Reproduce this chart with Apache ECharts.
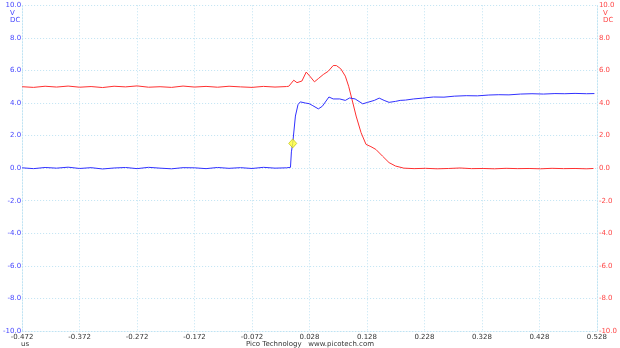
<!DOCTYPE html>
<html><head><meta charset="utf-8">
<script src="https://cdn.jsdelivr.net/npm/echarts@6/dist/echarts.min.js"></script>
<style>html,body{margin:0;padding:0;background:#fff}#c{width:620px;height:348px}</style>
</head><body><div id="c"></div>
<script>
// Channel A (blue) time in us, volts
const blueT = [-0.472,-0.452,-0.432,-0.412,-0.392,-0.372,-0.352,-0.332,-0.312,-0.292,-0.272,-0.252,-0.232,-0.212,-0.192,-0.172,-0.152,-0.132,-0.112,-0.092,-0.072,-0.052,-0.032,-0.012,
  -0.0051,-0.0035,-0.0012,0.0035,0.008,0.012,0.0206,0.0275,0.0326,0.0434,0.0503,0.0618,0.0692,0.0806,0.0903,0.0978,0.1074,0.1206,0.1292,0.1407,0.1493,0.1578,0.1664,0.1777,0.1858,0.195,0.2093,0.225,0.2436,0.262,0.28,0.3007,0.32,0.34,0.3573,0.375,0.395,0.4151,0.435,0.455,0.4722,0.49,0.51,0.5237];
const blueV = [0.02,-0.03,0.04,0.00,0.06,-0.02,0.03,-0.05,0.01,0.04,-0.03,0.05,0.00,-0.04,0.03,0.02,-0.03,0.04,-0.01,0.03,-0.02,0.05,0.00,0.02,
  0.05,1.0,1.52,3.2,3.9,4.07,4.0,3.96,3.86,3.64,3.8,4.37,4.25,4.25,4.16,4.31,4.25,3.95,4.04,4.16,4.30,4.16,4.04,4.10,4.16,4.18,4.25,4.30,4.37,4.36,4.42,4.45,4.44,4.49,4.51,4.50,4.55,4.57,4.55,4.58,4.57,4.59,4.57,4.58];
// Channel B (red)
const redT = [-0.472,-0.452,-0.432,-0.412,-0.392,-0.372,-0.352,-0.332,-0.312,-0.292,-0.272,-0.252,-0.232,-0.212,-0.192,-0.172,-0.152,-0.132,-0.112,-0.092,-0.072,-0.052,-0.032,-0.012,
  -0.008,0.0006,0.0062,0.0148,0.0223,0.0297,0.0366,0.0434,0.052,0.0606,0.0692,0.0748,0.0824,0.0903,0.0961,0.1035,0.1091,0.1177,0.1263,0.1349,0.1435,0.155,0.1664,0.1777,0.1921,
  0.21,0.23,0.25,0.27,0.29,0.31,0.33,0.35,0.37,0.39,0.41,0.43,0.45,0.47,0.49,0.51,0.522];
const redV = [5.00,4.96,5.03,4.98,5.04,4.97,5.01,4.95,5.03,4.99,5.05,4.97,5.00,4.96,5.04,4.98,5.02,4.97,5.03,4.99,4.96,5.02,4.98,5.01,
  5.03,5.4,5.25,5.35,5.9,5.6,5.3,5.5,5.75,5.95,6.3,6.3,6.1,5.65,5.03,4.0,3.2,2.18,1.46,1.32,1.15,0.74,0.34,0.13,0.0,
  -0.03,-0.01,-0.04,-0.02,0.01,-0.03,-0.02,-0.04,-0.01,-0.03,-0.02,-0.04,-0.01,-0.03,-0.02,-0.04,-0.02];
// Trigger marker
const trigT = [-0.0012];
const trigV = [1.52];

const pair = (ts, vs) => ts.map((t, i) => [t, vs[i]]);
const chart = echarts.init(document.getElementById('c'), null, {renderer: 'canvas'});
const gridCol = '#bfe3f3';
const dash = [1, 2];
const font = 'DejaVu Sans';
chart.setOption({
  animation: false,
  grid: {left: 19.5, right: 18, top: 5.3, bottom: 17},
  xAxis: {
    type: 'value', min: -0.472, max: 0.528, interval: 0.1,
    axisLine: {show: true, onZero: false, lineStyle: {color: gridCol, type: dash}},
    axisTick: {show: false},
    splitLine: {show: true, lineStyle: {color: gridCol, type: dash}},
    axisLabel: {fontFamily: font, fontSize: 7, color: '#333', margin: 3, showMinLabel: true, showMaxLabel: true,
      formatter: v => v.toFixed(3)}
  },
  yAxis: [{
    type: 'value', min: -10, max: 10, interval: 2,
    axisLine: {show: true, onZero: false, lineStyle: {color: gridCol, type: dash}},
    axisTick: {show: false},
    splitLine: {show: true, lineStyle: {color: gridCol, type: dash}},
    axisLabel: {fontFamily: font, fontSize: 7, color: '#4646ff', margin: 1, formatter: v => v.toFixed(1)}
  }, {
    type: 'value', min: -10, max: 10, interval: 2, position: 'right',
    axisLine: {show: true, onZero: false, lineStyle: {color: gridCol, type: dash}},
    axisTick: {show: false},
    splitLine: {show: false},
    axisLabel: {fontFamily: font, fontSize: 7, color: '#ff4646', margin: 2, formatter: v => v.toFixed(1)}
  }],
  series: [
    {type: 'line', yAxisIndex: 1, data: pair(redT, redV), showSymbol: false, lineStyle: {color: '#ff3030', width: 1}, z: 2},
    {type: 'line', yAxisIndex: 0, data: pair(blueT, blueV), showSymbol: false, lineStyle: {color: '#3030ff', width: 1}, z: 3},
    {type: 'scatter', yAxisIndex: 0, data: pair(trigT, trigV), symbol: 'diamond', symbolSize: [8, 9],
      itemStyle: {color: '#ffff33', borderColor: '#b8b800', borderWidth: 0.8}, z: 5}
  ],
  graphic: [
    {type: 'text', left: 10, top: 10, style: {text: 'V', font: '7px "DejaVu Sans"', fill: '#4646ff'}},
    {type: 'text', left: 10, top: 17, style: {text: 'DC', font: '7px "DejaVu Sans"', fill: '#4646ff'}},
    {type: 'text', left: 603, top: 10, style: {text: 'V', font: '7px "DejaVu Sans"', fill: '#ff4646'}},
    {type: 'text', left: 603, top: 17, style: {text: 'DC', font: '7px "DejaVu Sans"', fill: '#ff4646'}},
    {type: 'text', left: 21, top: 341, style: {text: 'us', font: '7px "DejaVu Sans"', fill: '#333'}},
    {type: 'text', left: 'center', top: 341, style: {text: 'Pico Technology   www.picotech.com', font: '7px "DejaVu Sans"', fill: '#333'}}
  ]
});
</script></body></html>
